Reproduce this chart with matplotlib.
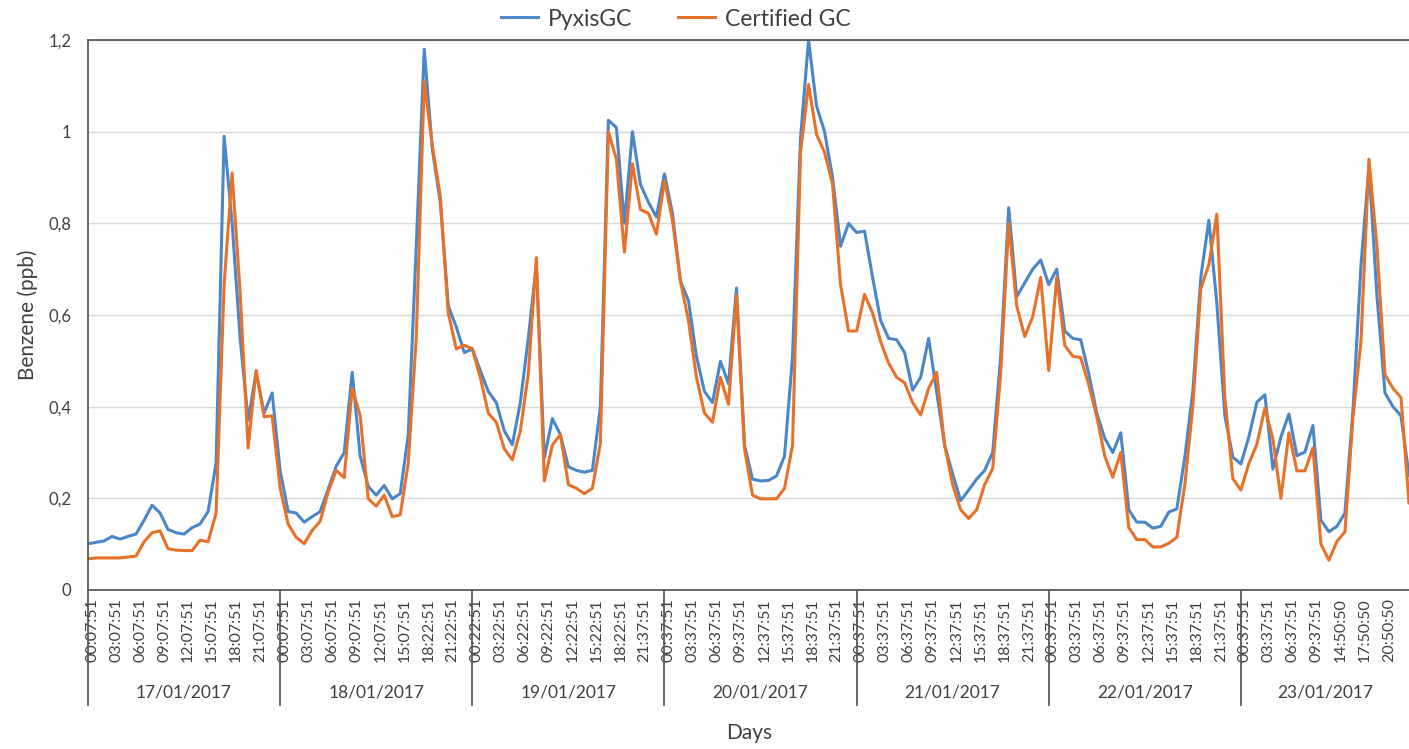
import matplotlib
matplotlib.use("Agg")
import matplotlib.pyplot as plt
import matplotlib.transforms as mtransforms
from matplotlib.ticker import FuncFormatter

plt.rcParams['font.family'] = ['Lato', 'DejaVu Sans']

# ---------------- data (hourly readings, ppb) ----------------
days = ['17/01/2017', '18/01/2017', '19/01/2017', '20/01/2017',
        '21/01/2017', '22/01/2017', '23/01/2017']

times_17 = ['00:07:51', '03:07:51', '06:07:51', '09:07:51', '12:07:51', '15:07:51', '18:07:51', '21:07:51']
times_18 = ['00:07:51', '03:07:51', '06:07:51', '09:07:51', '12:07:51', '15:07:51', '18:22:51', '21:22:51']
times_19 = ['00:22:51', '03:22:51', '06:22:51', '09:22:51', '12:22:51', '15:22:51', '18:22:51', '21:37:51']
times_20 = ['00:37:51', '03:37:51', '06:37:51', '09:37:51', '12:37:51', '15:37:51', '18:37:51', '21:37:51']
times_21 = ['00:37:51', '03:37:51', '06:37:51', '09:37:51', '12:37:51', '15:37:51', '18:37:51', '21:37:51']
times_22 = ['00:37:51', '03:37:51', '06:37:51', '09:37:51', '12:37:51', '15:37:51', '18:37:51', '21:37:51']
times_23 = ['00:37:51', '03:37:51', '06:37:51', '09:37:51', '14:50:50', '17:50:50', '20:50:50']

pyxis_17 = [0.101, 0.104, 0.107, 0.117, 0.111, 0.117, 0.122, 0.152, 0.185, 0.168, 0.132, 0.125,
            0.122, 0.136, 0.144, 0.171, 0.277, 0.99, 0.80, 0.55, 0.37, 0.475, 0.386, 0.43]
pyxis_18 = [0.26, 0.171, 0.168, 0.148, 0.160, 0.171, 0.22, 0.27, 0.30, 0.475, 0.292, 0.226,
            0.207, 0.228, 0.199, 0.210, 0.339, 0.75, 1.18, 0.963, 0.846, 0.62, 0.574, 0.518]
pyxis_19 = [0.526, 0.479, 0.433, 0.409, 0.347, 0.317, 0.409, 0.55, 0.71, 0.288, 0.374, 0.339,
            0.269, 0.261, 0.257, 0.261, 0.40, 1.025, 1.009, 0.80, 1.0, 0.885, 0.846, 0.814]
pyxis_20 = [0.908, 0.822, 0.674, 0.631, 0.51, 0.433, 0.409, 0.499, 0.45, 0.659, 0.316, 0.242,
            0.238, 0.239, 0.249, 0.292, 0.51, 0.986, 1.2, 1.056, 1.0, 0.9, 0.75, 0.80]
pyxis_21 = [0.78, 0.783, 0.682, 0.588, 0.549, 0.546, 0.518, 0.436, 0.464, 0.549, 0.433, 0.316,
            0.253, 0.195, 0.218, 0.242, 0.261, 0.30, 0.51, 0.834, 0.64, 0.67, 0.70, 0.72]
pyxis_22 = [0.666, 0.70, 0.565, 0.549, 0.546, 0.472, 0.386, 0.331, 0.30, 0.343, 0.175, 0.148,
            0.148, 0.135, 0.139, 0.170, 0.177, 0.29, 0.434, 0.683, 0.807, 0.625, 0.38, 0.29]
pyxis_23 = [0.275, 0.334, 0.41, 0.426, 0.264, 0.334, 0.384, 0.293, 0.301, 0.359, 0.152, 0.127,
            0.139, 0.168, 0.393, 0.708, 0.924, 0.641, 0.43, 0.40, 0.38, 0.25]

certified_17 = [0.068, 0.070, 0.070, 0.070, 0.070, 0.072, 0.074, 0.105, 0.125, 0.129, 0.090, 0.087,
                0.086, 0.086, 0.109, 0.105, 0.168, 0.666, 0.91, 0.65, 0.31, 0.479, 0.378, 0.38]
certified_18 = [0.222, 0.144, 0.115, 0.101, 0.13, 0.15, 0.214, 0.261, 0.245, 0.44, 0.38, 0.199,
                0.183, 0.207, 0.160, 0.164, 0.277, 0.55, 1.11, 0.97, 0.86, 0.604, 0.526, 0.534]
certified_19 = [0.526, 0.464, 0.386, 0.366, 0.308, 0.284, 0.347, 0.472, 0.725, 0.238, 0.316, 0.339,
                0.230, 0.222, 0.210, 0.222, 0.32, 1.0, 0.94, 0.737, 0.93, 0.83, 0.822, 0.776]
certified_20 = [0.893, 0.807, 0.674, 0.588, 0.464, 0.386, 0.366, 0.464, 0.405, 0.643, 0.308, 0.207,
                0.199, 0.199, 0.199, 0.222, 0.316, 0.955, 1.103, 0.994, 0.955, 0.885, 0.666, 0.565]
certified_21 = [0.565, 0.645, 0.604, 0.542, 0.495, 0.464, 0.452, 0.409, 0.382, 0.44, 0.475, 0.316,
                0.230, 0.175, 0.156, 0.175, 0.230, 0.265, 0.472, 0.80, 0.62, 0.553, 0.596, 0.682]
certified_22 = [0.479, 0.682, 0.534, 0.51, 0.507, 0.448, 0.378, 0.292, 0.246, 0.30, 0.136, 0.110,
                0.110, 0.094, 0.094, 0.102, 0.115, 0.23, 0.401, 0.658, 0.71, 0.82, 0.42, 0.243]
certified_23 = [0.218, 0.276, 0.318, 0.397, 0.33, 0.20, 0.343, 0.26, 0.26, 0.31, 0.10, 0.065,
                0.106, 0.127, 0.376, 0.542, 0.94, 0.749, 0.47, 0.44, 0.42, 0.19]

pyxis_days = [pyxis_17, pyxis_18, pyxis_19, pyxis_20, pyxis_21, pyxis_22, pyxis_23]
certified_days = [certified_17, certified_18, certified_19, certified_20,
                  certified_21, certified_22, certified_23]
time_days = [times_17, times_18, times_19, times_20, times_21, times_22, times_23]

pyxis = [v for d in pyxis_days for v in d]
certified = [v for d in certified_days for v in d]
n = len(pyxis)
x = list(range(n))

# ---------------- figure ----------------
text_col = '#404040'
fig = plt.figure(figsize=(14.09, 7.49), dpi=100)
ax = fig.add_axes([88 / 1409, 1 - 590 / 749, 1 - 88 / 1409, (590 - 40) / 749])

ax.plot(x, pyxis, color='#4a86c8', lw=2.2, label='PyxisGC', solid_joinstyle='round')
ax.plot(x, certified, color='#e8712a', lw=2.2, label='Certified GC', solid_joinstyle='round')

ax.set_xlim(0, n - 1)
ax.set_ylim(0, 1.2)
ax.set_yticks([0, 0.2, 0.4, 0.6, 0.8, 1.0, 1.2])
ax.yaxis.set_major_formatter(FuncFormatter(lambda v, p: ('%g' % round(v, 1)).replace('.', ',')))
ax.grid(axis='y', color='#d9d9d9', lw=1.0)
ax.set_axisbelow(True)
ax.tick_params(axis='y', length=0, labelsize=12, labelcolor=text_col, pad=12)

for s in ['top', 'left', 'bottom']:
    ax.spines[s].set_color('#595959')
    ax.spines[s].set_linewidth(1.3)
ax.spines['right'].set_visible(False)

# category axis: time labels + day groups
tick_pos, tick_lab = [], []
starts = []
start = 0
for d, tl in zip(pyxis_days, time_days):
    starts.append(start)
    for k, lab in enumerate(tl):
        tick_pos.append(start + 3 * k + 0.5)
        tick_lab.append(lab)
    start += len(d)
ax.set_xticks(tick_pos)
ax.set_xticklabels(tick_lab, rotation=90, fontsize=11.5, color=text_col)
ax.tick_params(axis='x', length=0, pad=6)

trans = mtransforms.blended_transform_factory(ax.transData, ax.transAxes)
depth = (705 - 590) / 550
for st in starts:
    ax.plot([st, st], [0, -depth], transform=trans, color='#595959', lw=1.3, clip_on=False)
ends = starts[1:] + [n - 1]
for st, en, name in zip(starts, ends, days):
    ax.text((st + en) / 2, -(693 - 590) / 550, name, transform=trans, ha='center', va='center',
            fontsize=12.5, color=text_col)

fig.text(28 / 1409, 1 - 315 / 749, 'Benzene (ppb)', rotation=90, ha='center', va='center',
         fontsize=15, color=text_col)
fig.text(749 / 1409, 1 - 733 / 749, 'Days', ha='center', va='center', fontsize=15, color=text_col)

fig.legend(loc='center', bbox_to_anchor=(676 / 1409, 1 - 19 / 749), ncol=2, frameon=False,
           fontsize=16.5, handlelength=1.6, columnspacing=2.0, handletextpad=0.45,
           labelcolor=text_col)

fig.savefig('out.png', dpi=100)
